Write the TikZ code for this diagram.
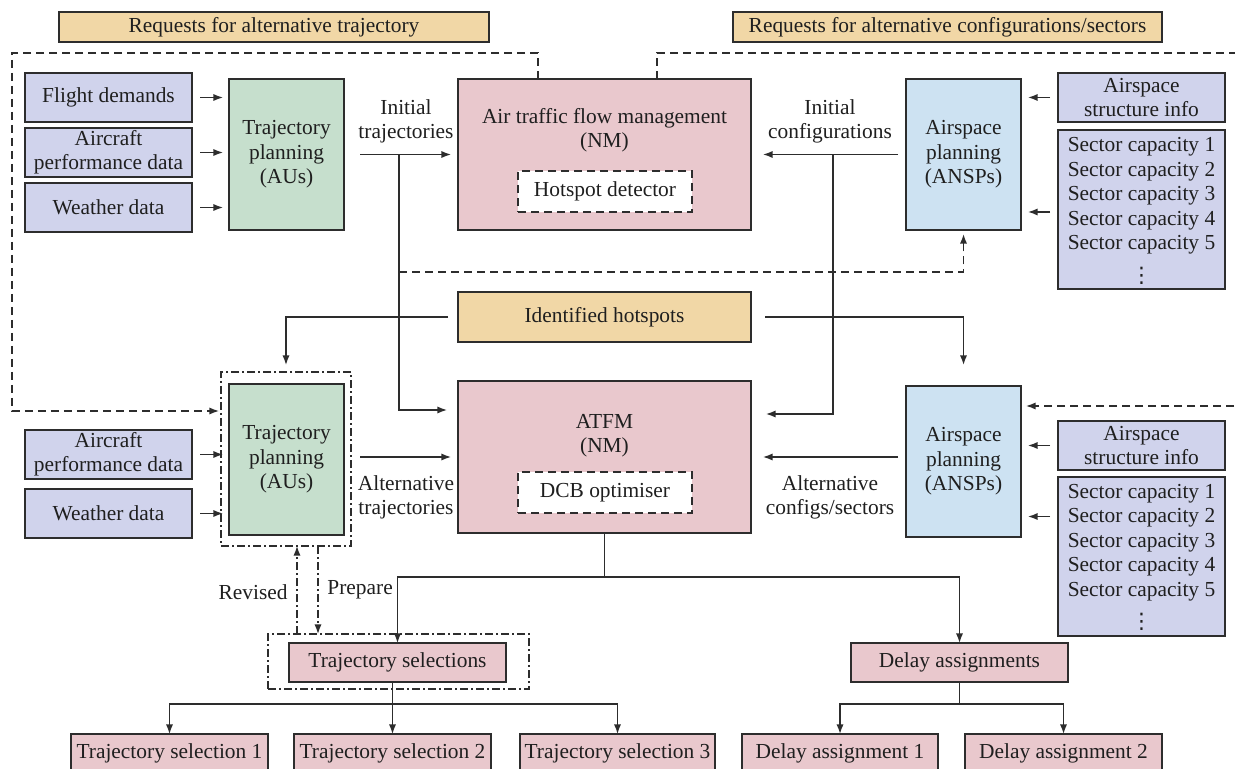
\documentclass[tikz,border=0pt]{standalone}
\usepackage{fontspec}
\setmainfont{Liberation Serif}
\newfontfamily\symfnt{DejaVu Sans}
\usetikzlibrary{arrows.meta,calc}
\definecolor{cin}{RGB}{208,211,236}
\definecolor{cgreen}{RGB}{198,223,205}
\definecolor{cpink}{RGB}{233,200,205}
\definecolor{cblue}{RGB}{205,226,242}
\definecolor{ctan}{RGB}{241,215,166}
\definecolor{cline}{RGB}{45,45,45}
\begin{document}
\begin{tikzpicture}[x=0.5pt,y=-0.5pt,
  font=\fontsize{10.7}{12.2}\selectfont,
  wh/.style 2 args={minimum width=#1*0.5pt, minimum height=#2*0.5pt},
  bx/.style={draw=cline, line width=0.9pt, inner sep=0pt, outer sep=0pt, align=center, text=black!88},
  inb/.style={bx, fill=cin},
  grn/.style={bx, fill=cgreen},
  pnk/.style={bx, fill=cpink},
  blu/.style={bx, fill=cblue},
  tanb/.style={bx, fill=ctan},
  dbox/.style={bx, fill=white, dash pattern=on 4pt off 2.5pt},
  ddbox/.style={draw=cline, line width=0.8pt, inner sep=0pt, outer sep=0pt, dash pattern=on 4pt off 1.5pt on 1pt off 1.5pt},
  lbl/.style={align=center, inner sep=0pt, text=black!88},
  ln/.style={draw=cline, line width=0.75pt},
  arr/.style={ln, -{Latex[length=4.8pt,width=3.6pt]}},
  dsh/.style={dash pattern=on 4pt off 2.5pt},
  dsd/.style={dash pattern=on 4pt off 1.5pt on 1pt off 1.5pt}
]
\useasboundingbox (0,0) rectangle (1235,769);
\clip (0,0) rectangle (1235,769);
\fill[white] (0,0) rectangle (1235,769);

% headers
\node[tanb, wh={430}{30}] (h1) at (274,27) {Requests for alternative trajectory};
\node[tanb, wh={429}{30}] (h2) at (947.5,27) {Requests for alternative configurations/sectors};

% row 1
\node[inb, wh={167}{49}] (fd) at (108.5,97.5) {Flight demands};
\node[inb, wh={167}{49}] (apd) at (108.5,152.5) {Aircraft\\performance data};
\node[inb, wh={167}{49}] (wd) at (108.5,207.5) {Weather data};
\node[grn, wh={115}{151}] (tp1) at (286.5,154.5) {Trajectory\\planning\\(AUs)};
\node[pnk, wh={293}{151}] (atfm1) at (604.5,154.5) {};
\node[lbl] (atfm1t) at (604.5,130) {Air traffic flow management\\(NM)};
\node[dbox, wh={174}{41}] (hd) at (605,191.5) {Hotspot detector};
\node[blu, wh={115}{151}] (ansp1) at (963.5,154.5) {Airspace\\planning\\(ANSPs)};
\node[inb, wh={167}{49}] (asi1) at (1141.5,97.5) {Airspace\\structure info};
\node[inb, wh={167}{159}] (sc1) at (1141.5,209.5) {};
\node[lbl] (sc1t) at (1141.5,196) {Sector capacity 1\\Sector capacity 2\\Sector capacity 3\\Sector capacity 4\\Sector capacity 5};
\node[inner sep=0pt, anchor=base, text=black!88] (sc1d) at (1141.5,283) {\symfnt ⋮};

\node[lbl] (lit) at (406,121.5) {Initial\\trajectories};
\node[lbl] (lic) at (830,121.5) {Initial\\configurations};

% hotspots
\node[tanb, wh={293}{50}] (ih) at (604.5,317) {Identified hotspots};

% row 2
\node[ddbox, wh={130}{174}] (tpbox) at (286,459) {};
\node[grn, wh={115}{151}] (tp2) at (286.5,459.5) {Trajectory\\planning\\(AUs)};
\node[inb, wh={167}{49}] (apd2) at (108.5,454.5) {Aircraft\\performance data};
\node[inb, wh={167}{49}] (wd2) at (108.5,513.5) {Weather data};
\node[pnk, wh={293}{152}] (atfm2) at (604.5,457) {};
\node[lbl] (atfm2t) at (604.5,436) {ATFM\\(NM)};
\node[dbox, wh={174}{41}] (dcb) at (605,492.5) {DCB optimiser};
\node[blu, wh={115}{151}] (ansp2) at (963.5,461.5) {Airspace\\planning\\(ANSPs)};
\node[inb, wh={167}{49}] (asi2) at (1141.5,445.5) {Airspace\\structure info};
\node[inb, wh={167}{159}] (sc2) at (1141.5,556.5) {};
\node[lbl] (sc2t) at (1141.5,542.5) {Sector capacity 1\\Sector capacity 2\\Sector capacity 3\\Sector capacity 4\\Sector capacity 5};
\node[inner sep=0pt, anchor=base, text=black!88] (sc2d) at (1141.5,628) {\symfnt ⋮};

\node[lbl] (lat) at (406,497.5) {Alternative\\trajectories};
\node[lbl] (lac) at (830,497.5) {Alternative\\configs/sectors};

% bottom
\node[ddbox, wh={261}{55}] (tsbox) at (398.5,661.5) {};
\node[pnk, wh={217}{39}] (ts) at (397.5,662.5) {Trajectory selections};
\node[pnk, wh={217}{39}] (da) at (959.5,662.5) {Delay assignments};
\node[pnk, wh={197}{38}] (ts1) at (169.5,753) {Trajectory selection 1};
\node[pnk, wh={197}{38}] (ts2) at (392.5,753) {Trajectory selection 2};
\node[pnk, wh={195}{38}] (ts3) at (617.5,753) {Trajectory selection 3};
\node[pnk, wh={196}{38}] (da1) at (840,753) {Delay assignment 1};
\node[pnk, wh={197}{38}] (da2) at (1063.5,753) {Delay assignment 2};

\node[lbl, anchor=east] (rev) at (288,592) {Revised};
\node[lbl, anchor=west] (prep) at (327,590) {Prepare};

% input arrows row 1
\foreach \n in {fd,apd,wd}{
  \draw[arr, shorten <=4pt, shorten >=3pt] (\n.east) -- (\n.east -| tp1.west);
}
\draw[arr, shorten <=4pt, shorten >=3.5pt] (asi1.west) -- (asi1.west -| ansp1.east);
\draw[arr, shorten <=4pt, shorten >=3.5pt] ($(sc1.west)+(0,2.5)$) -- ($(sc1.west -| ansp1.east)+(0,2.5)$);

% input arrows row 2
\foreach \n in {apd2,wd2}{
  \draw[arr, shorten <=4pt, shorten >=3pt] (\n.east) -- (\n.east -| tp2.west);
}
\draw[arr, shorten <=4pt, shorten >=3.5pt] (asi2.west) -- (asi2.west -| ansp2.east);
\draw[arr, shorten <=4pt, shorten >=3.5pt] ($(sc2.west)+(0,-40)$) -- ($(sc2.west -| ansp2.east)+(0,-40)$);

% initial flows
\draw[arr, shorten <=8pt, shorten >=3.5pt] (tp1.east) -- (atfm1.west);
\draw[arr, shorten <=4pt, shorten >=6pt] (ansp1.west) -- (atfm1.east);
\coordinate (j1) at (399,154.5);
\coordinate (j1e) at (447,410);
\draw[arr] (j1) |- (j1e);
\coordinate (j2) at (833,154.5);
\coordinate (j2e) at (766,414);
\draw[arr] (j2) |- (j2e);
\coordinate (d1) at (399,272);
\draw[arr, dsh, shorten >=2pt] (d1) -| (ansp1.south);

% hotspots
\draw[arr, shorten <=5pt, shorten >=3.5pt] (ih.west) -| (tpbox.north);
\draw[arr, shorten <=7pt, shorten >=10.5pt] (ih.east) -| (ansp2.north);

% alternative flows
\draw[arr, shorten <=8pt, shorten >=3.5pt] (tp2.east |- atfm2.west) -- (atfm2.west);
\draw[arr, shorten <=4pt, shorten >=6pt] (ansp2.west |- atfm2.east) -- (atfm2.east);

% dashed request loops
\coordinate (p1) at (538,79);
\coordinate (lc) at (12,53);
\coordinate (lc2) at (12,411);
\draw[arr, dsh, shorten >=1pt] (p1) |- (lc) -- (lc2) -- (tpbox.west |- lc2);
\coordinate (p3) at (657,79);
\coordinate (rc) at (1250,53);
\coordinate (rc2) at (1250,406);
\draw[arr, dsh, shorten >=2.5pt] (p3) |- (rc) -- (rc2) -- (ansp2.east |- rc2);

% ATFM outputs
\coordinate (hb) at (604.5,577);
\draw[arr] (atfm2.south) -- (hb) -| (ts.north);
\draw[arr] (hb) -| (da.north);

% revised / prepare
\coordinate (rv) at (297,634);
\draw[arr, dsd] (rv) -- (rv |- tpbox.south);
\coordinate (pp) at (318,546);
\draw[arr, dsd] (pp) -- (pp |- tsbox.north);

% selection tree
\coordinate (h2b) at (392.5,704);
\draw[ln] (ts.south -| h2b) -- (h2b);
\draw[arr] (h2b) -| (ts1.north);
\draw[arr] (h2b) -- (ts2.north);
\draw[arr] (h2b) -| (ts3.north);
\coordinate (h3b) at (959.5,704);
\draw[ln] (da.south) -- (h3b);
\draw[arr] (h3b) -| (da1.north);
\draw[arr] (h3b) -| (da2.north);
\end{tikzpicture}
\end{document}
